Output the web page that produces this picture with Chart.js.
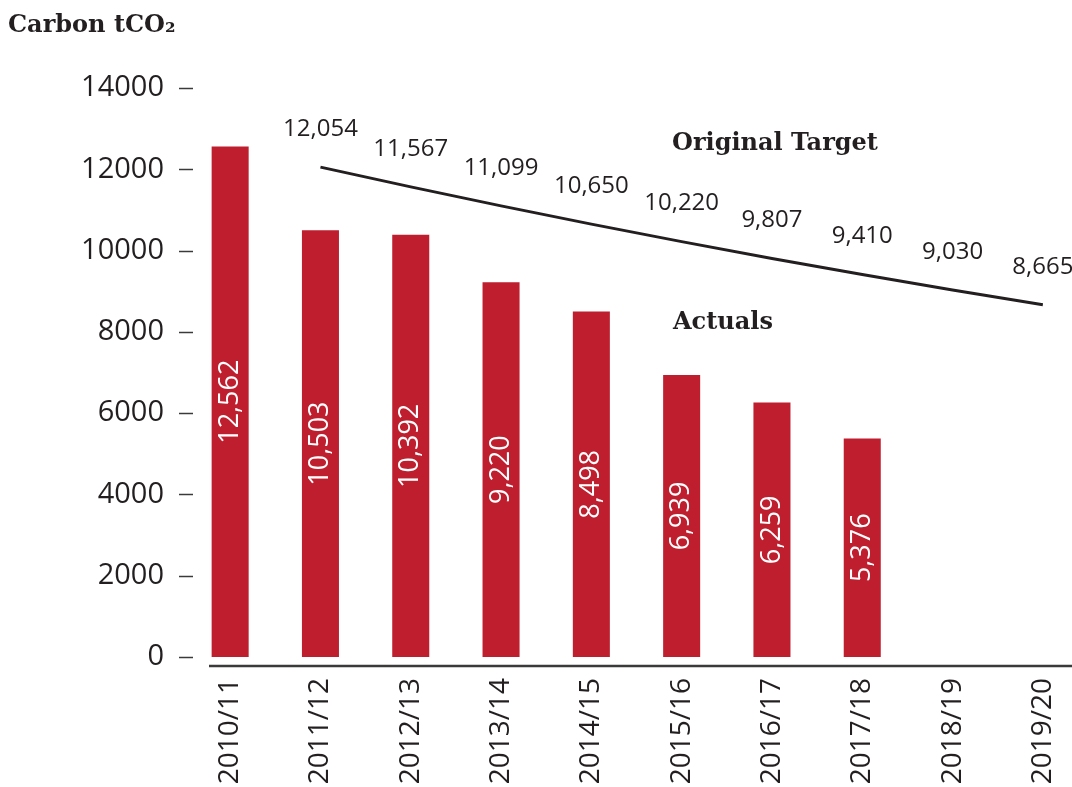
<!DOCTYPE html>
<html>
<head>
<meta charset="utf-8">
<script src="https://cdn.jsdelivr.net/npm/chart.js@4.4.0/dist/chart.umd.min.js"></script>
<style>
  html, body { margin: 0; padding: 0; background: #fff; overflow: hidden; }
  #wrap { width: 1100px; height: 787px; }
</style>
</head>
<body>
<div id="wrap"><canvas id="carbonChart"></canvas></div>
<script>
// Данные
const years = ['2010/11', '2011/12', '2012/13', '2013/14', '2014/15', '2015/16', '2016/17', '2017/18', '2018/19', '2019/20'];
const actuals = [12562, 10503, 10392, 9220, 8498, 6939, 6259, 5376, null, null];
const target = [null, 12054, 11567, 11099, 10650, 10220, 9807, 9410, 9030, 8665];
const yTicks = [0, 2000, 4000, 6000, 8000, 10000, 12000, 14000];

const RED = '#be1e2d';
const INK = '#231f20';
const SANS = "'Open Sans', sans-serif";
const SLAB = "'DejaVu Serif', serif";

const fmt = v => v.toLocaleString('en-US');

// подписи, засечки оси Y, линия оси X
const extras = {
    id: 'extras',
    afterDraw(chart) {
        const ctx = chart.ctx;
        const y = chart.scales.y;
        const area = chart.chartArea;
        ctx.save();

        // засечки
        ctx.strokeStyle = '#3a3a3a';
        ctx.lineWidth = 1.5;
        yTicks.forEach(t => {
            const py = Math.round(y.getPixelForValue(t)) + 0.5;
            ctx.beginPath();
            ctx.moveTo(area.left - 6, py);
            ctx.lineTo(area.left + 8, py);
            ctx.stroke();
        });

        // ось X
        ctx.lineWidth = 2.5;
        const axisY = y.getPixelForValue(0) + 9;
        ctx.beginPath();
        ctx.moveTo(area.left + 24, axisY);
        ctx.lineTo(chart.width, axisY);
        ctx.stroke();

        // значения внутри столбцов
        ctx.fillStyle = '#fff';
        ctx.font = '27px ' + SANS;
        ctx.textAlign = 'center';
        ctx.textBaseline = 'middle';
        chart.getDatasetMeta(0).data.forEach((el, i) => {
            if (actuals[i] == null) return;
            ctx.save();
            ctx.translate(el.x, (el.y + el.base) / 2);
            ctx.rotate(-Math.PI / 2);
            ctx.fillText(fmt(actuals[i]), 0, 0);
            ctx.restore();
        });

        // значения над линией
        ctx.fillStyle = INK;
        ctx.font = '24px ' + SANS;
        chart.getDatasetMeta(1).data.forEach((el, i) => {
            if (target[i] == null) return;
            ctx.fillText(fmt(target[i]), el.x, el.y - 38);
        });

        // заголовок и подписи серий
        ctx.textAlign = 'left';
        ctx.textBaseline = 'alphabetic';
        ctx.font = 'bold 24px ' + SLAB;
        ctx.fillText('Carbon tCO\u2082', 8, 32);
        ctx.fillText('Original Target', 672, 150);
        ctx.fillText('Actuals', 673, 329);

        ctx.restore();
    }
};

new Chart(document.getElementById('carbonChart'), {
    data: {
        labels: years,
        datasets: [{
            type: 'bar',
            label: 'Actuals',
            data: actuals,
            backgroundColor: RED,
            categoryPercentage: 1,
            barPercentage: 0.41,
            order: 2
        }, {
            type: 'line',
            label: 'Original Target',
            data: target,
            borderColor: INK,
            borderWidth: 3,
            pointRadius: 0,
            tension: 0,
            spanGaps: false,
            order: 1
        }]
    },
    options: {
        responsive: true,
        maintainAspectRatio: false,
        animation: false,
        layout: { padding: { top: 88, right: 12, left: 0, bottom: 0 } },
        plugins: {
            legend: { display: false },
            tooltip: { enabled: false }
        },
        scales: {
            x: {
                offset: true,
                grid: { display: false, drawTicks: false },
                border: { display: false },
                ticks: {
                    color: INK,
                    font: { size: 28, family: SANS },
                    padding: 21,
                    minRotation: 90,
                    maxRotation: 90,
                    autoSkip: false
                },
                afterFit: s => { s.height = 130; }
            },
            y: {
                min: 0,
                max: 14000,
                grid: { display: false, drawTicks: false },
                border: { display: false },
                afterBuildTicks: s => { s.ticks = yTicks.map(v => ({ value: v })); },
                ticks: {
                    color: INK,
                    font: { size: 29, family: SANS },
                    padding: 21,
                    callback: v => String(v)
                },
                afterFit: s => { s.width = 185; }
            }
        }
    },
    plugins: [extras]
});
</script>
</body>
</html>
